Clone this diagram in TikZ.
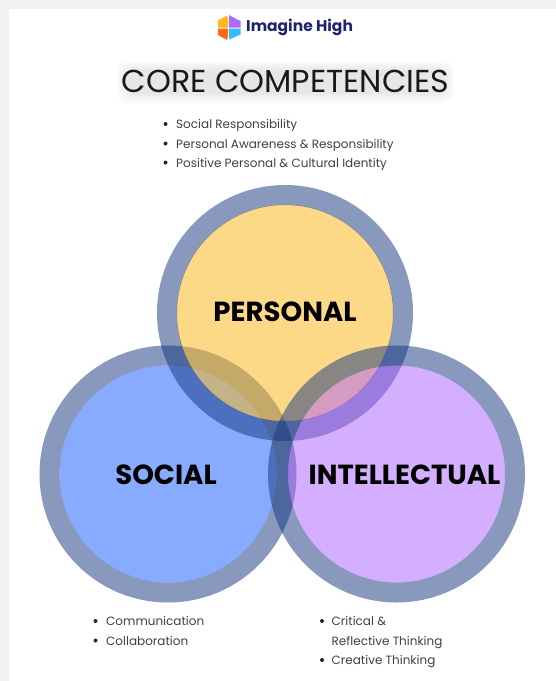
\documentclass[tikz,border=0pt]{standalone}
\usepackage{fontspec}
\setmainfont{Poppins}
\newfontfamily\popbold{Poppins}[UprightFont=* Bold]
\definecolor{pagegray}{HTML}{F1F1F1}
\definecolor{ringblue}{HTML}{15357F}
\definecolor{persfill}{HTML}{FBB91D}
\definecolor{socfill}{HTML}{89ABFF}
\definecolor{intfill}{HTML}{AD61FF}
\definecolor{brandnavy}{HTML}{1B2470}
\definecolor{logoyellow}{HTML}{FFB81C}
\definecolor{logopurple}{HTML}{A96BFF}
\definecolor{logoorange}{HTML}{FF6A13}
\definecolor{logocyan}{HTML}{33BBFF}
\tikzset{
  x=1pt,y=-1pt,
  disc/.style={circle,minimum size=217pt,inner sep=0pt,outer sep=0pt},
  ring/.style={draw=ringblue,line width=20pt,opacity=0.5},
  biglabel/.style={font=\popbold\fontsize{27.6}{30}\selectfont,text=black},
  bullets/.style={font=\fontsize{12}{19.3}\selectfont,text=black!75,align=left,anchor=north west,inner sep=0pt},
  dot/.style={circle,fill=black!85,minimum size=4pt,inner sep=0pt},
  glow/.style={fill=black,opacity=0.009,rounded corners=12pt}
}
\begin{document}
\begin{tikzpicture}
\useasboundingbox (0,0) rectangle (556,681);
\fill[pagegray] (0,0) rectangle (556,681);
\fill[white] (8.5,8.5) rectangle (556,681);
% logo
\fill[logoyellow] (218,20.5) -- (227,15.5) -- (228,19) -- (228,27.5) -- (218,27.5) -- cycle;
\fill[logopurple] (229,15) -- (237,19.5) -- (240.5,21) -- (240.5,27.5) -- (229,27.5) -- cycle;
\fill[logoorange] (218,28.5) -- (228,28.5) -- (228,36) -- (227,40) -- (218,35) -- cycle;
\fill[logocyan] (229,28.5) -- (240.5,28.5) -- (240.5,34.5) -- (229,39.5) -- cycle;
\node[font=\popbold\fontsize{15.5}{17}\selectfont,text=brandnavy,anchor=west,inner sep=0pt] (brand) at (246,27.5) {Imagine High};
% title with soft halo
\foreach \g in {1,...,12}
  \fill[glow] (128-\g,72-\g) rectangle (443+\g,92+\g);
\node[font=\fontsize{31.7}{36}\selectfont,text=black!90] (title) at (285.5,81) {CORE COMPETENCIES};
% circles
\node[disc,fill=socfill] (social) at (168,474) {};
\draw[ring] (social.center) circle[radius=118.5];
\node[disc,fill=persfill,fill opacity=0.53] (personal) at (285,313) {};
\draw[ring] (personal.center) circle[radius=118];
\node[disc,fill=intfill,fill opacity=0.5] (intel) at (396.5,474) {};
\draw[ring] (intel.center) circle[radius=118.5];
\node[biglabel] (plabel) at (285,312) {PERSONAL};
\node[biglabel] (slabel) at (166,475) {SOCIAL};
\node[biglabel] (ilabel) at (404.5,475) {INTELLECTUAL};
% lists
\node[dot] (d1) at (165.5,124) {};
\node[dot] (d2) at (165.5,143.5) {};
\node[dot] (d3) at (165.5,162.5) {};
\node[bullets] (top) at (176,119.5) {Social Responsibility\\Personal Awareness \& Responsibility\\Positive Personal \& Cultural Identity};
\node[dot] (d4) at (95.5,621) {};
\node[dot] (d5) at (95.5,640.5) {};
\node[bullets] (left) at (106,616.5) {Communication\\Collaboration};
\node[dot] (d6) at (322,621) {};
\node[dot] (d7) at (322,660) {};
\node[bullets] (right) at (331.5,616.5) {Critical \&\\Reflective Thinking\\Creative Thinking};
\end{tikzpicture}
\end{document}
